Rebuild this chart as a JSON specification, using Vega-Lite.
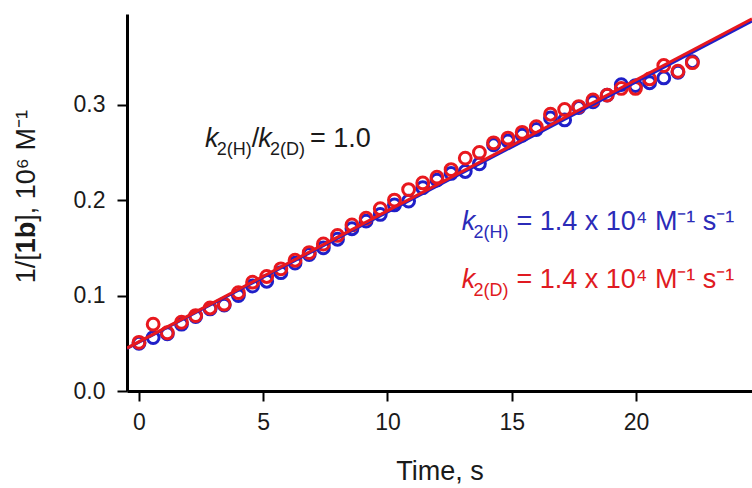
{
  "$schema": "https://vega.github.io/schema/vega-lite/v6.json",
  "width": 625,
  "height": 377,
  "autosize": {"type": "none"},
  "padding": {"left": 127, "top": 14, "right": 0, "bottom": 97},
  "background": "white",
  "config": {
    "view": {"stroke": null},
    "font": "Liberation Sans",
    "axis": {
      "grid": false,
      "domainColor": "black",
      "domainWidth": 3,
      "tickColor": "black",
      "tickWidth": 2,
      "tickSize": 10,
      "labelFont": "Liberation Sans",
      "labelFontSize": 23,
      "labelColor": "#1a1a1a",
      "titleFont": "Liberation Sans",
      "titleFontWeight": "normal",
      "titleColor": "#1a1a1a"
    }
  },
  "datasets": {
    "pts": [
      {"t": 0.00, "v": 0.050, "series": "H"}, {"t": 0.57, "v": 0.056, "series": "H"}, {"t": 1.14, "v": 0.060, "series": "H"}, {"t": 1.71, "v": 0.070, "series": "H"},
      {"t": 2.28, "v": 0.078, "series": "H"}, {"t": 2.86, "v": 0.086, "series": "H"}, {"t": 3.43, "v": 0.090, "series": "H"}, {"t": 4.00, "v": 0.100, "series": "H"},
      {"t": 4.57, "v": 0.110, "series": "H"}, {"t": 5.14, "v": 0.115, "series": "H"}, {"t": 5.71, "v": 0.124, "series": "H"}, {"t": 6.28, "v": 0.134, "series": "H"},
      {"t": 6.85, "v": 0.143, "series": "H"}, {"t": 7.42, "v": 0.150, "series": "H"}, {"t": 7.99, "v": 0.159, "series": "H"}, {"t": 8.57, "v": 0.170, "series": "H"},
      {"t": 9.14, "v": 0.178, "series": "H"}, {"t": 9.71, "v": 0.185, "series": "H"}, {"t": 10.28, "v": 0.195, "series": "H"}, {"t": 10.85, "v": 0.199, "series": "H"},
      {"t": 11.42, "v": 0.213, "series": "H"}, {"t": 11.99, "v": 0.221, "series": "H"}, {"t": 12.56, "v": 0.228, "series": "H"}, {"t": 13.13, "v": 0.230, "series": "H"},
      {"t": 13.70, "v": 0.238, "series": "H"}, {"t": 14.27, "v": 0.258, "series": "H"}, {"t": 14.85, "v": 0.262, "series": "H"}, {"t": 15.42, "v": 0.268, "series": "H"},
      {"t": 15.99, "v": 0.274, "series": "H"}, {"t": 16.56, "v": 0.286, "series": "H"}, {"t": 17.13, "v": 0.284, "series": "H"}, {"t": 17.70, "v": 0.297, "series": "H"},
      {"t": 18.27, "v": 0.303, "series": "H"}, {"t": 18.84, "v": 0.310, "series": "H"}, {"t": 19.41, "v": 0.321, "series": "H"}, {"t": 19.98, "v": 0.320, "series": "H"},
      {"t": 20.55, "v": 0.323, "series": "H"}, {"t": 21.12, "v": 0.328, "series": "H"}, {"t": 21.69, "v": 0.334, "series": "H"}, {"t": 22.27, "v": 0.345, "series": "H"},
      {"t": 0.00, "v": 0.051, "series": "D"}, {"t": 0.57, "v": 0.070, "series": "D"}, {"t": 1.14, "v": 0.061, "series": "D"}, {"t": 1.71, "v": 0.072, "series": "D"},
      {"t": 2.28, "v": 0.079, "series": "D"}, {"t": 2.86, "v": 0.087, "series": "D"}, {"t": 3.43, "v": 0.091, "series": "D"}, {"t": 4.00, "v": 0.103, "series": "D"},
      {"t": 4.57, "v": 0.114, "series": "D"}, {"t": 5.14, "v": 0.120, "series": "D"}, {"t": 5.71, "v": 0.128, "series": "D"}, {"t": 6.28, "v": 0.137, "series": "D"},
      {"t": 6.85, "v": 0.145, "series": "D"}, {"t": 7.42, "v": 0.154, "series": "D"}, {"t": 7.99, "v": 0.163, "series": "D"}, {"t": 8.57, "v": 0.174, "series": "D"},
      {"t": 9.14, "v": 0.181, "series": "D"}, {"t": 9.71, "v": 0.191, "series": "D"}, {"t": 10.28, "v": 0.200, "series": "D"}, {"t": 10.85, "v": 0.211, "series": "D"},
      {"t": 11.42, "v": 0.218, "series": "D"}, {"t": 11.99, "v": 0.224, "series": "D"}, {"t": 12.56, "v": 0.232, "series": "D"}, {"t": 13.13, "v": 0.244, "series": "D"},
      {"t": 13.70, "v": 0.250, "series": "D"}, {"t": 14.27, "v": 0.260, "series": "D"}, {"t": 14.85, "v": 0.265, "series": "D"}, {"t": 15.42, "v": 0.271, "series": "D"},
      {"t": 15.99, "v": 0.277, "series": "D"}, {"t": 16.56, "v": 0.290, "series": "D"}, {"t": 17.13, "v": 0.295, "series": "D"}, {"t": 17.70, "v": 0.298, "series": "D"},
      {"t": 18.27, "v": 0.305, "series": "D"}, {"t": 18.84, "v": 0.310, "series": "D"}, {"t": 19.41, "v": 0.317, "series": "D"}, {"t": 19.98, "v": 0.317, "series": "D"},
      {"t": 20.55, "v": 0.327, "series": "D"}, {"t": 21.12, "v": 0.341, "series": "D"}, {"t": 21.69, "v": 0.335, "series": "D"}, {"t": 22.27, "v": 0.344, "series": "D"}
    ],
    "fits": [
      {"t": -0.483, "v": 0.0445, "series": "H"}, {"t": 24.67, "v": 0.3875, "series": "H"},
      {"t": -0.483, "v": 0.0450, "series": "D"}, {"t": 24.67, "v": 0.3900, "series": "D"}
    ],
    "ann": [
      {"t": 2.656, "v": 0.2558, "text": "k", "part": "k", "grp": "R"},
      {"t": 3.127, "v": 0.2558, "text": "2(H)", "part": "sub", "grp": "R"},
      {"t": 4.535, "v": 0.2558, "text": "/", "part": "main", "grp": "R"},
      {"t": 4.800, "v": 0.2558, "text": "k", "part": "k", "grp": "R"},
      {"t": 5.270, "v": 0.2558, "text": "2(D)", "part": "sub", "grp": "R"},
      {"t": 6.880, "v": 0.2558, "text": "= 1.0", "part": "main", "grp": "R"},
      {"t": 12.986, "v": 0.169, "text": "k", "part": "k", "grp": "H"},
      {"t": 13.461, "v": 0.169, "text": "2(H)", "part": "sub", "grp": "H"},
      {"t": 15.19, "v": 0.169, "text": "= 1.4 x 10⁴ M⁻¹ s⁻¹", "part": "main", "grp": "H"},
      {"t": 12.986, "v": 0.1084, "text": "k", "part": "k", "grp": "D"},
      {"t": 13.461, "v": 0.1084, "text": "2(D)", "part": "sub", "grp": "D"},
      {"t": 15.19, "v": 0.1084, "text": "= 1.4 x 10⁴ M⁻¹ s⁻¹", "part": "main", "grp": "D"}
    ],
    "ytitle": [
      {"t": -4.185, "v": 0.1129, "text": "1/[", "part": "main"},
      {"t": -4.185, "v": 0.1443, "text": "1b", "part": "bold"},
      {"t": -4.185, "v": 0.1774, "text": "], 10⁶ M⁻¹", "part": "main"}
    ]
  },
  "encoding": {
    "x": {
      "field": "t", "type": "quantitative",
      "scale": {"domain": [-0.483, 24.67], "nice": false, "zero": false},
      "axis": {"values": [0, 5, 10, 15, 20], "title": "Time, s", "titleFontSize": 27, "titlePadding": 24, "labelPadding": 10, "labelFlush": false}
    },
    "y": {
      "field": "v", "type": "quantitative",
      "scale": {"domain": [0, 0.395], "nice": false, "zero": false},
      "axis": {"values": [0, 0.1, 0.2, 0.3], "format": ".1f", "title": null, "labelPadding": 12, "labelFlush": false}
    }
  },
  "layer": [
    {
      "data": {"name": "pts"},
      "transform": [{"filter": "datum.series === 'H'"}],
      "mark": {"type": "point", "shape": "circle", "filled": false, "size": 140, "strokeWidth": 3, "color": "#1f1fc8", "opacity": 1}
    },
    {
      "data": {"name": "pts"},
      "transform": [{"filter": "datum.series === 'D'"}],
      "mark": {"type": "point", "shape": "circle", "filled": false, "size": 140, "strokeWidth": 3, "color": "#e8181e", "opacity": 1}
    },
    {
      "data": {"name": "fits"},
      "transform": [{"filter": "datum.series === 'H'"}],
      "mark": {"type": "line", "color": "#1f1fc8", "strokeWidth": 3, "clip": true}
    },
    {
      "data": {"name": "fits"},
      "transform": [{"filter": "datum.series === 'D'"}],
      "mark": {"type": "line", "color": "#e8181e", "strokeWidth": 3, "clip": true}
    },
    {
      "data": {"values": [{}]},
      "mark": {"type": "rule", "color": "black", "strokeWidth": 3},
      "encoding": {"x": null, "y": {"datum": 0.395, "type": "quantitative"}}
    },
    {
      "data": {"name": "ann"},
      "transform": [{"filter": "datum.part === 'k'"}],
      "mark": {"type": "text", "align": "left", "baseline": "alphabetic", "fontSize": 27, "fontStyle": "italic", "font": "Liberation Sans"},
      "encoding": {
        "text": {"field": "text"},
        "color": {"field": "grp", "type": "nominal", "scale": {"domain": ["H", "D", "R"], "range": ["#2b2bb8", "#e01a22", "#1a1a1a"]}, "legend": null}
      }
    },
    {
      "data": {"name": "ann"},
      "transform": [{"filter": "datum.part === 'main'"}],
      "mark": {"type": "text", "align": "left", "baseline": "alphabetic", "fontSize": 27, "font": "Liberation Sans"},
      "encoding": {
        "text": {"field": "text"},
        "color": {"field": "grp", "type": "nominal", "scale": {"domain": ["H", "D", "R"], "range": ["#2b2bb8", "#e01a22", "#1a1a1a"]}, "legend": null}
      }
    },
    {
      "data": {"name": "ann"},
      "transform": [{"filter": "datum.part === 'sub'"}],
      "mark": {"type": "text", "align": "left", "baseline": "alphabetic", "fontSize": 18, "dy": 8, "font": "Liberation Sans"},
      "encoding": {
        "text": {"field": "text"},
        "color": {"field": "grp", "type": "nominal", "scale": {"domain": ["H", "D", "R"], "range": ["#2b2bb8", "#e01a22", "#1a1a1a"]}, "legend": null}
      }
    },
    {
      "data": {"name": "ytitle"},
      "transform": [{"filter": "datum.part === 'main'"}],
      "mark": {"type": "text", "align": "left", "baseline": "alphabetic", "angle": 270, "fontSize": 27, "color": "#1a1a1a", "font": "Liberation Sans"},
      "encoding": {"text": {"field": "text"}}
    },
    {
      "data": {"name": "ytitle"},
      "transform": [{"filter": "datum.part === 'bold'"}],
      "mark": {"type": "text", "align": "left", "baseline": "alphabetic", "angle": 270, "fontSize": 27, "fontWeight": "bold", "color": "#1a1a1a", "font": "Liberation Sans"},
      "encoding": {"text": {"field": "text"}}
    }
  ]
}
